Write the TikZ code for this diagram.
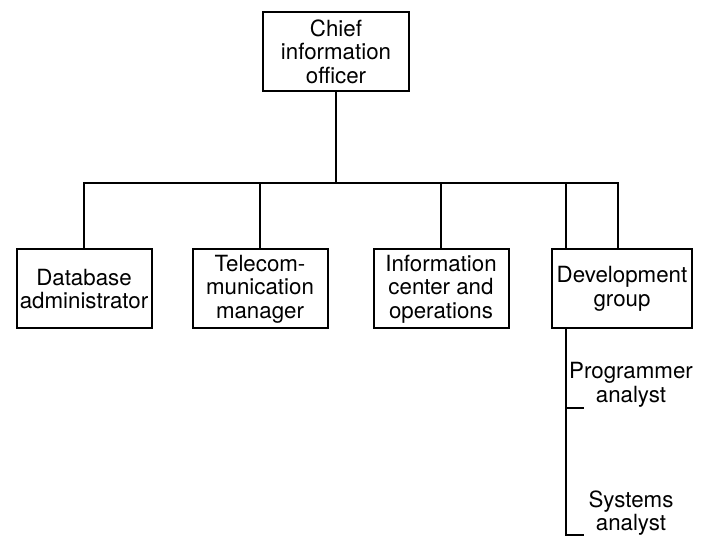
\documentclass[tikz,border=0pt]{standalone}
\usepackage{fontspec}
\setmainfont{TeX Gyre Heros}
\usetikzlibrary{positioning}
\begin{document}
\begin{tikzpicture}[x=1pt, y=-1pt, line cap=rect, line join=miter, line width=2pt, font=\fontsize{22.3}{23.6}\selectfont]
			\tikzset{unit/.style={draw, align=center, inner sep=0pt, minimum width=135pt, minimum height=79pt},
				staff/.style={align=center, inner sep=0pt}}
			\useasboundingbox (0,0) rectangle (705,537);
			\node[unit, minimum width=146pt] (cio) at (336,51.5) {Chief\\information\\officer};
			\node[unit] (dba) at (84,289) {Database\\administrator};
			\node[unit] (tel) at (260,289) {Telecom-\\munication\\manager};
			\node[unit] (info) at (441,289) {Information\\center and\\operations};
			\node[unit, minimum width=140pt] (dev) at (622,289) {Development\\group};
			\node[staff] (prog) at (631,385) {Programmer\\analyst};
			\node[staff] (sys) at (631,513) {Systems\\analyst};
			\coordinate (bus) at (336,183);
			\coordinate (dl) at (566,249);
			\coordinate (dr) at (618,249);
			\coordinate (pt) at (583,408);
			\coordinate (st) at (583,535);
			\draw (cio.south) -- (bus);
			\draw (dba.north) -- (dba.north |- bus) -- (bus -| dr) -- (dr);
			\draw (tel.north) -- (tel.north |- bus);
			\draw (info.north) -- (info.north |- bus);
			\draw (dl) -- (dl |- bus);
			\draw (dev.south -| dl) |- (st);
			\draw (pt) -- (pt -| dl);
		\end{tikzpicture}
\end{document}
